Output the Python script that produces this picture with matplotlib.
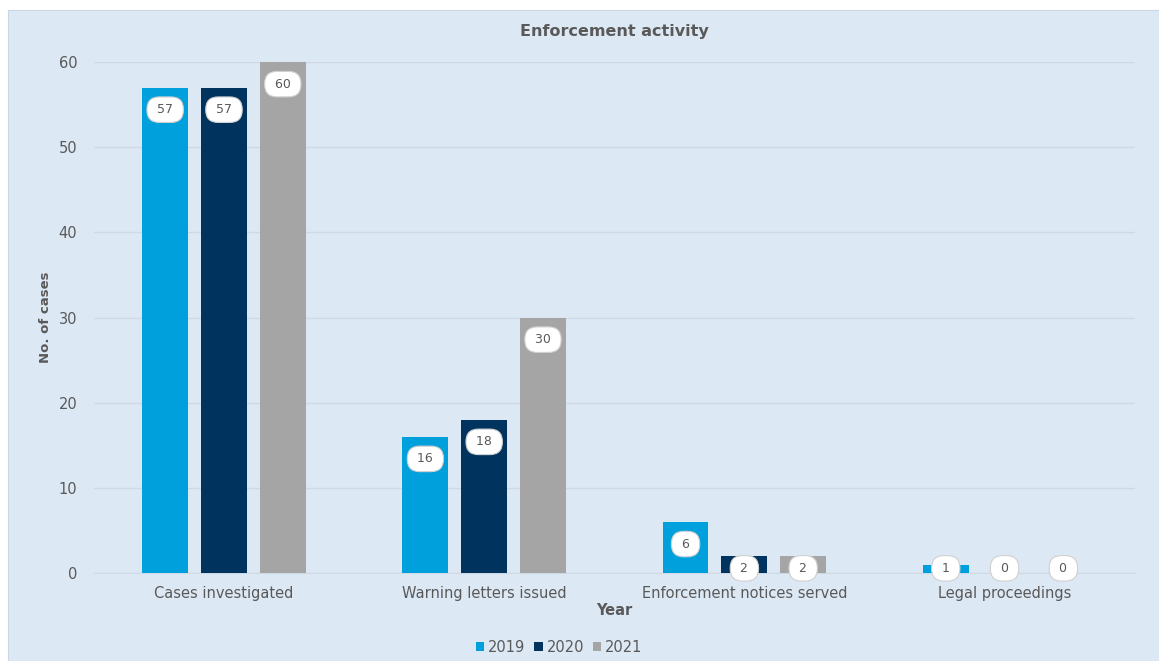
import numpy as np
import matplotlib
matplotlib.use('Agg')
import matplotlib.pyplot as plt
from matplotlib.patches import Rectangle

# Data
categories = ['Cases investigated', 'Warning letters issued',
              'Enforcement notices served', 'Legal proceedings']
years = ['2019', '2020', '2021']
v2019 = [57, 16, 6, 1]
v2020 = [57, 18, 2, 0]
v2021 = [60, 30, 2, 0]
series = [v2019, v2020, v2021]
colors = ['#00a0dc', '#00345f', '#a5a5a5']
yticks = [0, 10, 20, 30, 40, 50, 60]

txt = '#595959'
bg = '#dde8f5'

fig = plt.figure(figsize=(11.59, 6.61), dpi=100, facecolor='white')
fig.add_artist(Rectangle((8 / 1159, 0), 1 - 8 / 1159, 651 / 661,
                         transform=fig.transFigure, facecolor=bg,
                         edgecolor='#c9d6e4', lw=0.8, zorder=-10))
ax = fig.add_axes([0.081, 0.1331, 0.898, 0.7731])
ax.set_facecolor('none')

x = np.arange(len(categories))
w = 0.176
step = 0.226
for i, (vals, c, yr) in enumerate(zip(series, colors, years)):
    xs = x + (i - 1) * step
    ax.bar(xs, vals, width=w, color=c, label=yr, zorder=3)
    for xi, v in zip(xs, vals):
        ly = max(v - 2.6, 0.55)
        ax.text(xi, ly, f' {v} ', ha='center', va='center', fontsize=9,
                color=txt, zorder=5,
                bbox=dict(boxstyle='round,pad=0.5,rounding_size=1.0',
                          fc='white', ec='#d0d0d0', lw=0.8))

ax.set_xlim(-0.5, len(categories) - 0.5)
ax.set_ylim(0, 60)
ax.set_yticks(yticks)
ax.set_xticks(x)
ax.set_xticklabels(categories)
ax.tick_params(axis='both', length=0, labelsize=10.5, colors=txt)
ax.tick_params(axis='y', pad=12)
ax.tick_params(axis='x', pad=9)
ax.grid(axis='y', color='#cfd9e4', lw=1, zorder=1)
for s in ['top', 'right', 'left']:
    ax.spines[s].set_visible(False)
ax.spines['bottom'].set_color('#cfd9e4')

ax.set_title('Enforcement activity', fontsize=11.5, fontweight='bold',
             color=txt, pad=18.5)
ax.set_ylabel('No. of cases', fontsize=9.5, fontweight='bold', color=txt)
ax.yaxis.set_label_coords(-0.040, 0.5)
ax.set_xlabel('Year', fontsize=10.5, fontweight='bold', color=txt, labelpad=2)

ax.legend(loc='upper center', bbox_to_anchor=(0.447, -0.105), ncol=3,
          frameon=False, fontsize=10.5, labelcolor=txt, handlelength=0.6,
          handleheight=0.6, handletextpad=0.25, columnspacing=0.6)

fig.savefig('out.png', dpi=100, facecolor='white')
